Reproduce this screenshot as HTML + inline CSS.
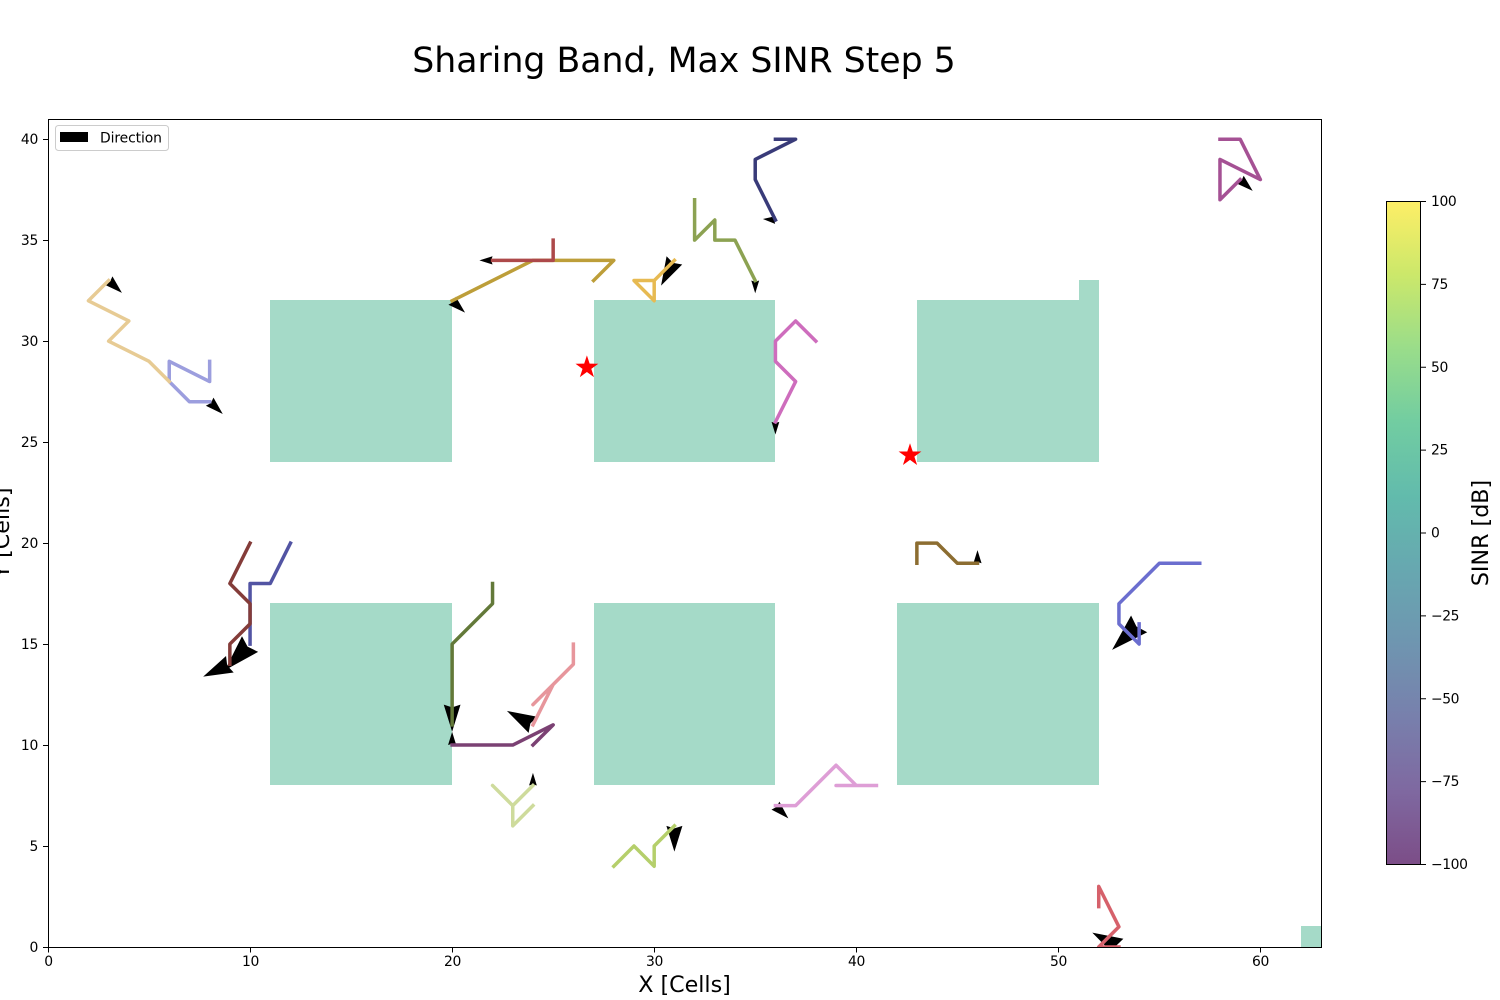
<!DOCTYPE html>
<html lang="en">
<head>
<meta charset="utf-8">
<title>Sharing Band, Max SINR Step 5</title>
<style>
html,body{margin:0;padding:0;background:#fff;width:1500px;height:1000px;overflow:hidden}
svg{display:block}
text{font-family:"DejaVu Sans","Liberation Sans",sans-serif;fill:#000}
</style>
</head>
<body>
<svg id="figure" xmlns="http://www.w3.org/2000/svg" width="1500" height="1000" viewBox="0 0 1500 1000">
  <defs>
    <clipPath id="axes-clip"><rect x="48" y="119" width="1273" height="828"/></clipPath>
    <linearGradient id="viridis-gradient" x1="0" y1="1" x2="0" y2="0"></linearGradient>
  </defs>
  <text x="684" y="72" font-size="34.7" text-anchor="middle">Sharing Band, Max SINR Step 5</text>
  <g id="heat-layer" clip-path="url(#axes-clip)"></g>
  <g id="arrow-layer" clip-path="url(#axes-clip)"></g>
  <g id="line-layer" clip-path="url(#axes-clip)"></g>
  <g id="star-layer"></g>
  <rect x="48.5" y="119.5" width="1273" height="828" fill="none" stroke="#000" stroke-width="1"/>
  <g id="x-axis"></g>
  <g id="y-axis"></g>
  <text x="684.5" y="992" font-size="22.2" text-anchor="middle">X [Cells]</text>
  <text x="0" y="0" font-size="22.2" text-anchor="middle" transform="translate(9 533) rotate(-90)">Y [Cells]</text>
  <g>
    <rect x="55.5" y="125.5" width="113" height="25" rx="3" ry="3" fill="#fff" fill-opacity="0.8" stroke="#ccc" stroke-width="1"/>
    <rect x="60" y="132" width="28" height="10" fill="#000"/>
    <text x="100" y="142.5" font-size="13.9" letter-spacing="-0.1">Direction</text>
  </g>
  <g id="colorbar">
    <rect x="1386.5" y="201.5" width="34" height="663" fill="url(#viridis-gradient)"/>
    <rect x="1386.5" y="201.5" width="34" height="663" fill="none" stroke="#000" stroke-width="1"/>
  </g>
  <text x="0" y="0" font-size="22.2" text-anchor="middle" transform="translate(1488 533) rotate(-90)">SINR [dB]</text>
</svg>
<script>
// ---- chart data (all in grid-cell units) ----
var blockX0 = [11, 27, 43, 51, 11, 27, 42, 62];
var blockX1 = [20, 36, 52, 52, 20, 36, 52, 63];
var blockY0 = [24, 24, 24, 32, 8, 8, 8, 0];
var blockY1 = [32, 32, 32, 33, 17, 17, 17, 1];

var trajectoryNames = ['navy', 'blue', 'periwinkle', 'light-periwinkle', 'dark-olive', 'olive', 'lime', 'pale-lime', 'brown', 'gold', 'amber', 'beige', 'dark-red', 'red', 'coral', 'pink', 'purple', 'magenta', 'orchid', 'lilac'];
var trajectoryNavy = [[36,40],[37,40],[35,39],[35,38],[36,36]];
var trajectoryBlue = [[12,20],[11,18],[10,18],[10,15]];
var trajectoryPeriwinkle = [[57,19],[55,19],[53,17],[53,16],[54,15],[54,16]];
var trajectoryLightPeriwinkle = [[8,29],[8,28],[6,29],[6,28],[7,27],[8,27]];
var trajectoryDarkOlive = [[22,18],[22,17],[20,15],[20,11]];
var trajectoryOlive = [[32,37],[32,35],[33,36],[33,35],[34,35],[35,33]];
var trajectoryLime = [[28,4],[29,5],[30,4],[30,5],[31,6]];
var trajectoryPaleLime = [[24,7],[23,6],[23,7],[22,8],[23,7],[24,8]];
var trajectoryBrown = [[43,19],[43,20],[44,20],[45,19],[46,19]];
var trajectoryGold = [[27,33],[28,34],[24,34],[20,32]];
var trajectoryAmber = [[30,33],[29,33],[30,32],[30,33],[31,34]];
var trajectoryBeige = [[6,28],[5,29],[3,30],[4,31],[2,32],[3,33]];
var trajectoryDarkRed = [[10,20],[9,18],[10,17],[10,16],[9,15],[9,14]];
var trajectoryRed = [[25,35],[25,34],[22,34]];
var trajectoryCoral = [[52,2],[52,3],[53,1],[52,0],[53,0]];
var trajectoryPink = [[26,15],[26,14],[25,13],[24,12],[25,13],[24,11]];
var trajectoryPurple = [[24,10],[25,11],[23,10],[20,10]];
var trajectoryMagenta = [[58,40],[59,40],[60,38],[58,39],[58,37],[59,38]];
var trajectoryOrchid = [[38,30],[37,31],[36,30],[36,29],[37,28],[36,26]];
var trajectoryLilac = [[41,8],[39,8],[40,8],[39,9],[37,7],[36,7]];

// arrow tails and direction vectors, same order as trajectoryNames
var arrowTailX = [36, 10, 54, 8, 20, 35, 31, 24, 46, 20, 31, 3, 9, 22, 53, 24, 20, 59, 36, 36];
var arrowTailY = [36, 15, 16, 27, 12, 33, 6, 8, 19, 32, 34, 33, 14, 34, 0, 11, 10, 38, 26, 7];
var arrowU = [-0.62, -1.24, -1.34, 0.65, 0, 0, 0, 0, 0, 0.64, -0.66, 0.66, -1.32, -0.65, -1.32, -1.29, 0, 0.62, 0, 0.64];
var arrowV = [0.05, -1.29, -1.29, -0.61, -1.34, -0.63, -1.28, 0.62, 0.65, -0.59, -1.25, -0.61, -0.61, 0, 0.71, 0.69, 0.65, -0.56, -0.62, -0.63];

var stationX = [26.67, 42.66];
var stationY = [28.7, 24.35];

var xTickValues = [0, 10, 20, 30, 40, 50, 60];
var yTickValues = [0, 5, 10, 15, 20, 25, 30, 35, 40];
var colorbarTickValues = [-100, -75, -50, -25, 0, 25, 50, 75, 100];
// ---- end of data ----

var trajectories = [trajectoryNavy, trajectoryBlue, trajectoryPeriwinkle, trajectoryLightPeriwinkle, trajectoryDarkOlive, trajectoryOlive, trajectoryLime, trajectoryPaleLime, trajectoryBrown, trajectoryGold, trajectoryAmber, trajectoryBeige, trajectoryDarkRed, trajectoryRed, trajectoryCoral, trajectoryPink, trajectoryPurple, trajectoryMagenta, trajectoryOrchid, trajectoryLilac];
var trajectoryColors = ['#393b79', '#5254a3', '#6b6ecf', '#9c9ede', '#637939', '#8ca252', '#b5cf6b', '#cedb9c', '#8c6d31', '#bd9e39', '#e7ba52', '#e7cb94', '#843c39', '#ad494a', '#d6616b', '#e7969c', '#7b4173', '#a55194', '#ce6dbd', '#de9ed6'];
var viridisStops = ['#440154', '#482878', '#3e4989', '#31688e', '#26828e', '#1f9e89', '#35b779', '#6ece58', '#b5de2b', '#fde725'];

var SVGNS = 'http://www.w3.org/2000/svg';
var X_LEFT = 48, X_RIGHT = 1321, Y_BOTTOM = 947, Y_TOP = 119;
function xScale(v) { return X_LEFT + (v / 63) * (X_RIGHT - X_LEFT); }
function yScale(v) { return Y_BOTTOM - (v / 41) * (Y_BOTTOM - Y_TOP); }
function cbScale(v) { return 864.5 - ((v + 100) / 200) * 663; }
function make(tag, attrs, parent) {
  var el = document.createElementNS(SVGNS, tag);
  for (var k in attrs) el.setAttribute(k, attrs[k]);
  parent.appendChild(el);
  return el;
}
function fmt(v) { return String(v).replace('-', '\u2212'); }

// heatmap blocks
var heatLayer = document.getElementById('heat-layer');
blockX0.forEach(function (x0, i) {
  var x = Math.round(xScale(x0)), y = Math.floor(yScale(blockY1[i]));
  var el = make('rect', { x: x, y: y, width: Math.round(xScale(blockX1[i])) - x, height: Math.floor(yScale(blockY0[i])) - y, fill: '#a5dac8' }, heatLayer);
  
  
});

// arrows
var arrowLayer = document.getElementById('arrow-layer');
arrowTailX.forEach(function (tx, i) {
  var bx = xScale(tx), by = yScale(arrowTailY[i]);
  var ex = xScale(tx + arrowU[i]), ey = yScale(arrowTailY[i] + arrowV[i]);
  var dx = ex - bx, dy = ey - by, len = Math.sqrt(dx * dx + dy * dy);
  var ux = dx / len, uy = dy / len, half = len * 0.31;
  var pts = [
    [ex, ey],
    [bx - uy * half, by + ux * half],
    [bx + ux * len * 0.1, by + uy * len * 0.1],
    [bx + uy * half, by - ux * half]
  ].map(function (p) { return p[0].toFixed(2) + ',' + p[1].toFixed(2); }).join(' ');
  var el = make('polygon', { points: pts, fill: '#000' }, arrowLayer);
  
  
});

// trajectories
var lineLayer = document.getElementById('line-layer');
trajectories.forEach(function (path, i) {
  var pts = path.map(function (p) { return xScale(p[0]).toFixed(2) + ',' + yScale(p[1]).toFixed(2); }).join(' ');
  var el = make('polyline', { points: pts, fill: 'none', stroke: trajectoryColors[i], 'stroke-width': 3.5, 'stroke-linejoin': 'round', 'stroke-linecap': 'square' }, lineLayer);
  
  
});

// stations
var starLayer = document.getElementById('star-layer');
stationX.forEach(function (sx, i) {
  var cx = xScale(sx), cy = yScale(stationY[i]), pts = [];
  for (var k = 0; k < 10; k++) {
    var r = k % 2 === 0 ? 12 : 4.6, a = -Math.PI / 2 + k * Math.PI / 5;
    pts.push((cx + r * Math.cos(a)).toFixed(2) + ',' + (cy + r * Math.sin(a)).toFixed(2));
  }
  var el = make('polygon', { points: pts.join(' '), fill: '#ff0000' }, starLayer);
  
  
});

// x axis
var xAxis = document.getElementById('x-axis');
xTickValues.forEach(function (v) {
  var x = Math.floor(xScale(v)) + 0.5;
  var tick = make('line', { x1: x, x2: x, y1: Y_BOTTOM, y2: Y_BOTTOM + 5.5, stroke: '#000', 'stroke-width': 1 }, xAxis);
  
  
  var label = make('text', { x: x, y: 966, 'font-size': 13.9, 'text-anchor': 'middle', 'letter-spacing': -0.3 }, xAxis);
  label.textContent = fmt(v);
  
  
});

// y axis
var yAxis = document.getElementById('y-axis');
yTickValues.forEach(function (v) {
  var y = Math.floor(yScale(v)) + 0.5;
  var tick = make('line', { x1: X_LEFT - 5, x2: X_LEFT, y1: y, y2: y, stroke: '#000', 'stroke-width': 1 }, yAxis);
  
  
  var label = make('text', { x: 38, y: y + 4.6, 'font-size': 13.9, 'text-anchor': 'end', 'letter-spacing': -0.3 }, yAxis);
  label.textContent = fmt(v);
  
  
});

// colorbar
var gradient = document.getElementById('viridis-gradient');
viridisStops.forEach(function (c, i) {
  make('stop', { offset: (i / (viridisStops.length - 1)), 'stop-color': c, 'stop-opacity': 0.7 }, gradient);
});
var colorbar = document.getElementById('colorbar');
colorbarTickValues.forEach(function (v) {
  var y = cbScale(v);
  var tick = make('line', { x1: 1421, x2: 1426, y1: y, y2: y, stroke: '#000', 'stroke-width': 1 }, colorbar);
  
  
  var label = make('text', { x: 1431, y: y + 4.6, 'font-size': 13.9, 'letter-spacing': -0.4 }, colorbar);
  label.textContent = fmt(v);
  
  
});
</script>
</body>
</html>
